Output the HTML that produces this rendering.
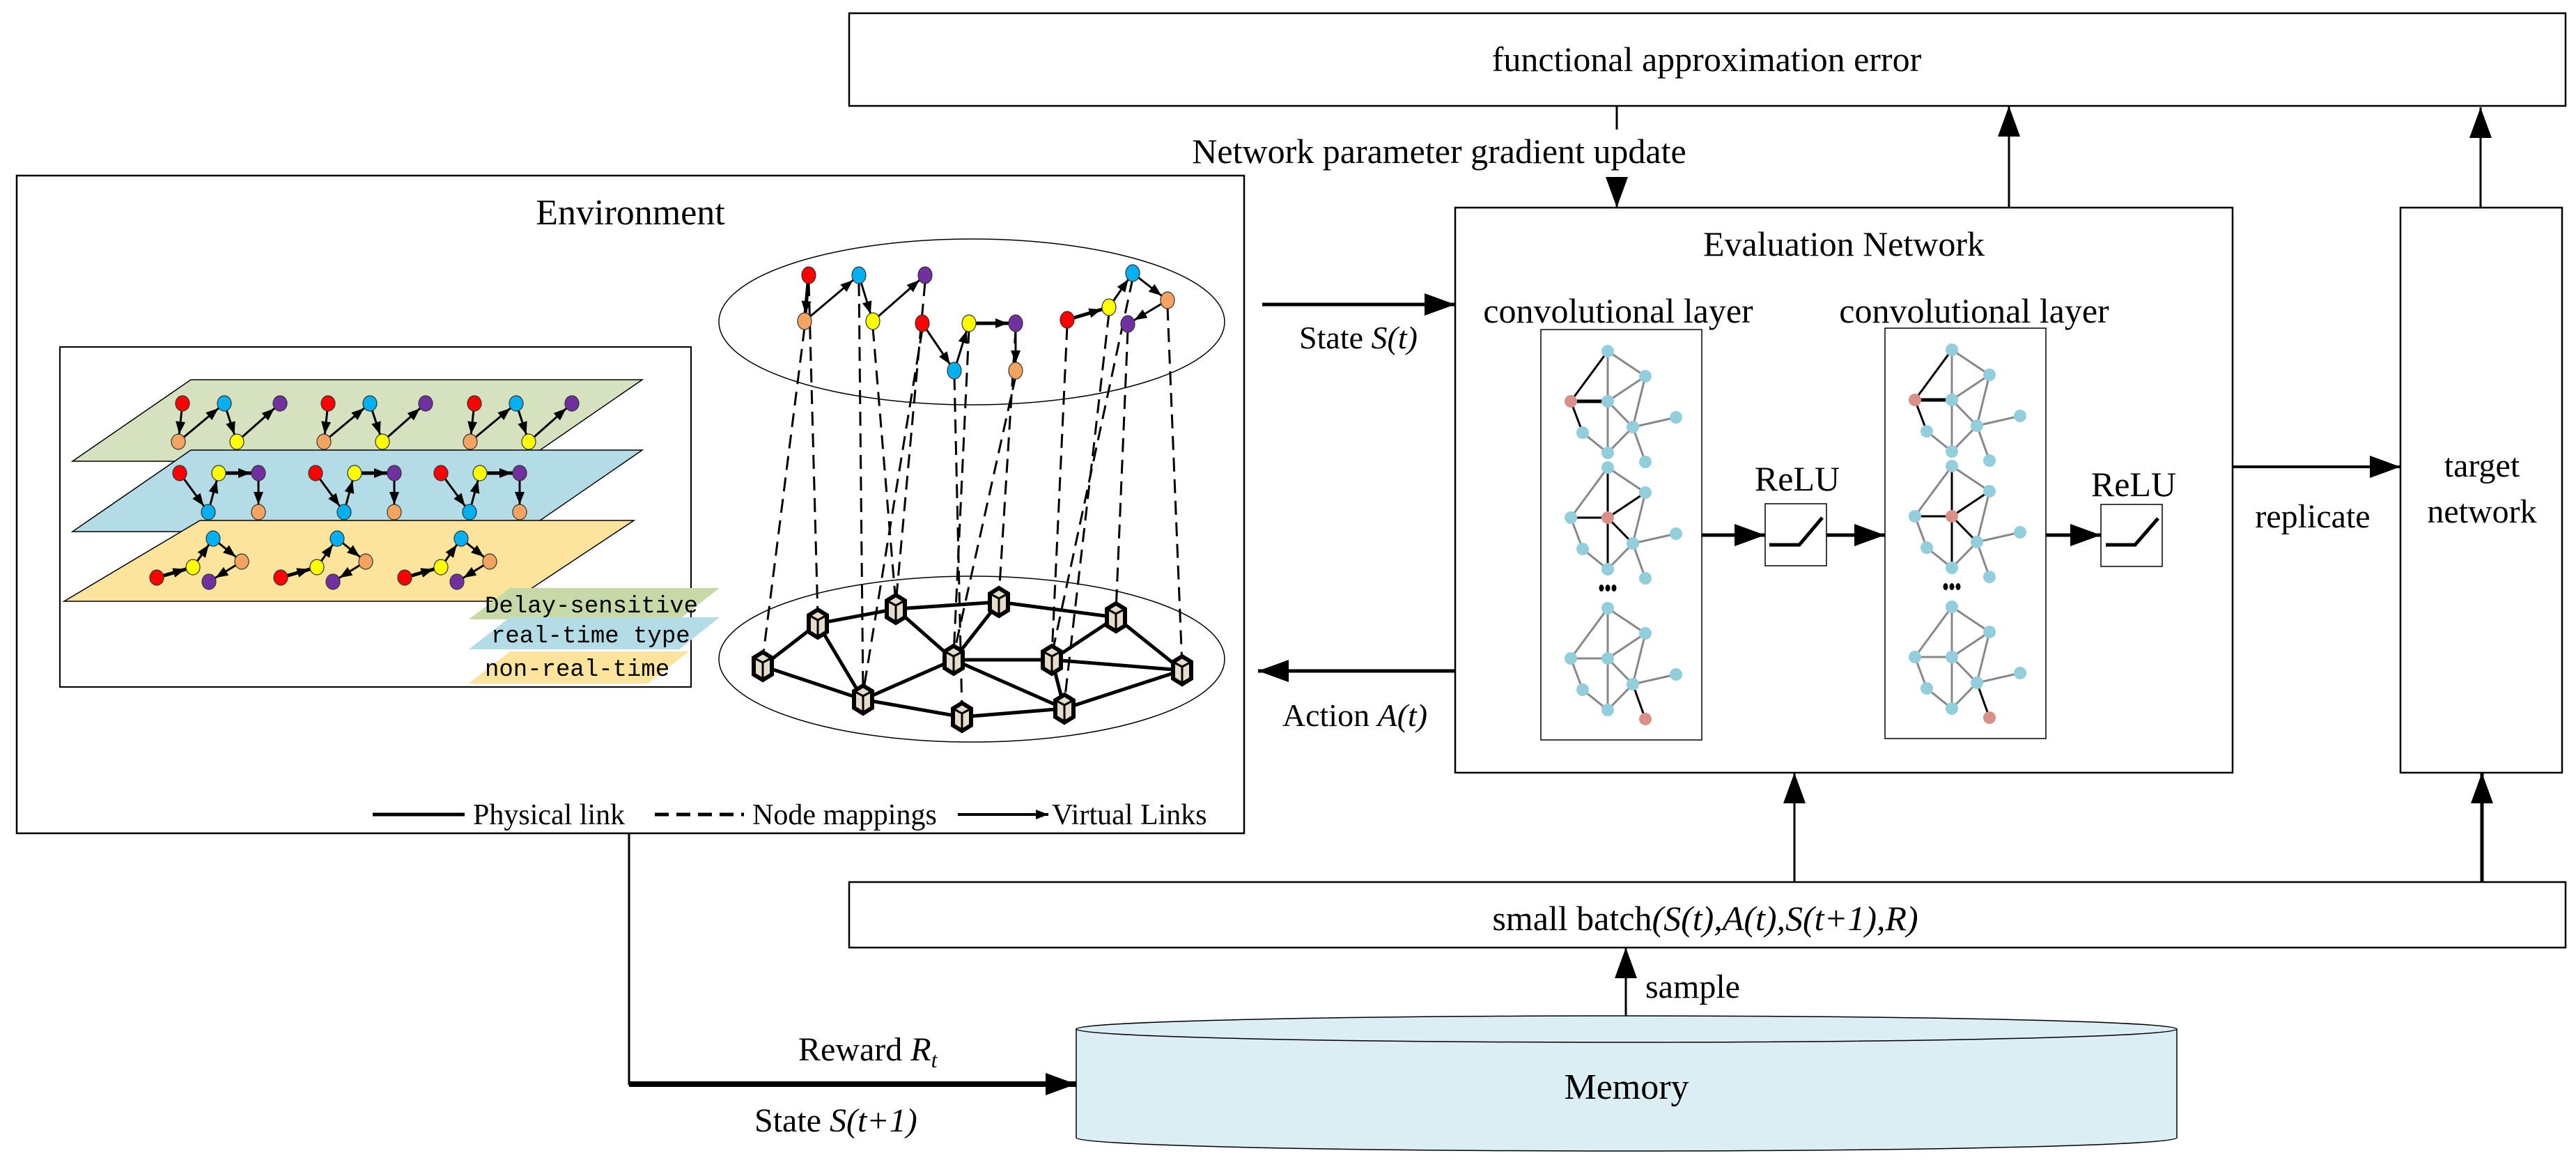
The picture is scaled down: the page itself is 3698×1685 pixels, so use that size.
<!DOCTYPE html>
<html><head><meta charset="utf-8"><style>
html,body{margin:0;padding:0;background:#fff;}
svg{display:block;}
text{font-family:"Liberation Serif",serif;fill:#000;}
.mono{font-family:"Liberation Mono",monospace;}
</style></head><body>
<svg width="3698" height="1685" viewBox="0 0 3698 1685" xmlns="http://www.w3.org/2000/svg">
<defs>
<marker id="ah" markerUnits="userSpaceOnUse" viewBox="0 0 44 32" markerWidth="44" markerHeight="32" refX="44" refY="16" orient="auto"><path d="M0,0 L44,16 L0,32 z" fill="#000"/></marker>
<marker id="sa" markerUnits="userSpaceOnUse" viewBox="0 0 30 14" markerWidth="30" markerHeight="14" refX="29" refY="7" orient="auto"><path d="M0,0 L18,7 L0,14 z" fill="#000"/></marker>
<marker id="sa0" markerUnits="userSpaceOnUse" viewBox="0 0 20 14" markerWidth="20" markerHeight="14" refX="18" refY="7" orient="auto"><path d="M0,0 L18,7 L0,14 z" fill="#000"/></marker>
<g id="hx">
<polygon points="0,-20 13,-12 13,12 0,20 -13,12 -13,-12" fill="#e6dccb" stroke="#000" stroke-width="6"/>
<polyline points="-13,-12 0,-5 13,-12" fill="none" stroke="#000" stroke-width="3"/>
<line x1="0" y1="-5" x2="0" y2="18" stroke="#000" stroke-width="3"/>
</g>
<!-- GCN graph -->
<g id="gA" stroke-width="3">
<line x1="0" y1="0" x2="-53" y2="72" stroke="#000"/>
<line x1="0" y1="0" x2="54" y2="36" stroke="#888"/>
<line x1="0" y1="0" x2="0" y2="146" stroke="#888"/>
<line x1="-53" y1="72" x2="0" y2="72" stroke="#000" stroke-width="5"/>
<line x1="-53" y1="72" x2="-36" y2="117" stroke="#000"/>
<line x1="-36" y1="117" x2="0" y2="146" stroke="#888"/>
<line x1="0" y1="72" x2="36" y2="109" stroke="#888"/>
<line x1="54" y1="36" x2="0" y2="72" stroke="#888"/>
<line x1="54" y1="36" x2="36" y2="109" stroke="#888"/>
<line x1="36" y1="109" x2="98" y2="95" stroke="#888"/>
<line x1="36" y1="109" x2="54" y2="159" stroke="#888"/>
<line x1="36" y1="109" x2="0" y2="146" stroke="#888"/>
<g fill="#92cedb"><ellipse cx="0" cy="0" rx="9" ry="9"/><ellipse cx="54" cy="36" rx="9" ry="9"/><ellipse cx="0" cy="72" rx="9" ry="9"/><ellipse cx="36" cy="109" rx="9" ry="9"/><ellipse cx="98" cy="95" rx="9" ry="9"/><ellipse cx="-36" cy="117" rx="9" ry="9"/><ellipse cx="0" cy="146" rx="9" ry="9"/><ellipse cx="54" cy="159" rx="9" ry="9"/></g>
<ellipse cx="-53" cy="72" rx="9" ry="9" fill="#d9908a"/>
</g>
<g id="gB" stroke-width="3">
<line x1="0" y1="0" x2="-53" y2="72" stroke="#888"/>
<line x1="0" y1="0" x2="54" y2="36" stroke="#888"/>
<line x1="0" y1="0" x2="0" y2="146" stroke="#000"/>
<line x1="-53" y1="72" x2="0" y2="72" stroke="#000"/>
<line x1="-53" y1="72" x2="-36" y2="117" stroke="#888"/>
<line x1="-36" y1="117" x2="0" y2="146" stroke="#888"/>
<line x1="0" y1="72" x2="36" y2="109" stroke="#000"/>
<line x1="54" y1="36" x2="0" y2="72" stroke="#000"/>
<line x1="54" y1="36" x2="36" y2="109" stroke="#888"/>
<line x1="36" y1="109" x2="98" y2="95" stroke="#888"/>
<line x1="36" y1="109" x2="54" y2="159" stroke="#888"/>
<line x1="36" y1="109" x2="0" y2="146" stroke="#888"/>
<g fill="#92cedb"><ellipse cx="0" cy="0" rx="9" ry="9"/><ellipse cx="54" cy="36" rx="9" ry="9"/><ellipse cx="-53" cy="72" rx="9" ry="9"/><ellipse cx="36" cy="109" rx="9" ry="9"/><ellipse cx="98" cy="95" rx="9" ry="9"/><ellipse cx="-36" cy="117" rx="9" ry="9"/><ellipse cx="0" cy="146" rx="9" ry="9"/><ellipse cx="54" cy="159" rx="9" ry="9"/></g>
<ellipse cx="0" cy="72" rx="9" ry="9" fill="#d9908a"/>
</g>
<g id="gC" stroke-width="3">
<line x1="0" y1="0" x2="-53" y2="72" stroke="#888"/>
<line x1="0" y1="0" x2="54" y2="36" stroke="#888"/>
<line x1="0" y1="0" x2="0" y2="146" stroke="#888"/>
<line x1="-53" y1="72" x2="0" y2="72" stroke="#888"/>
<line x1="-53" y1="72" x2="-36" y2="117" stroke="#888"/>
<line x1="-36" y1="117" x2="0" y2="146" stroke="#888"/>
<line x1="0" y1="72" x2="36" y2="109" stroke="#888"/>
<line x1="54" y1="36" x2="0" y2="72" stroke="#888"/>
<line x1="54" y1="36" x2="36" y2="109" stroke="#888"/>
<line x1="36" y1="109" x2="98" y2="95" stroke="#888"/>
<line x1="36" y1="109" x2="54" y2="159" stroke="#000"/>
<line x1="36" y1="109" x2="0" y2="146" stroke="#888"/>
<g fill="#92cedb"><ellipse cx="0" cy="0" rx="9" ry="9"/><ellipse cx="54" cy="36" rx="9" ry="9"/><ellipse cx="-53" cy="72" rx="9" ry="9"/><ellipse cx="0" cy="72" rx="9" ry="9"/><ellipse cx="36" cy="109" rx="9" ry="9"/><ellipse cx="98" cy="95" rx="9" ry="9"/><ellipse cx="-36" cy="117" rx="9" ry="9"/><ellipse cx="0" cy="146" rx="9" ry="9"/></g>
<ellipse cx="54" cy="159" rx="9" ry="9" fill="#d9908a"/>
</g>
<g id="conv">
<use href="#gA" x="0" y="0"/>
<use href="#gB" x="0" y="167"/>
<use href="#gC" x="0" y="369"/>
<g fill="#000"><ellipse cx="-9" cy="340" rx="3.5" ry="5"/><ellipse cx="0" cy="340" rx="3.5" ry="5"/><ellipse cx="9" cy="340" rx="3.5" ry="5"/></g>
</g>
<!-- plane node groups -->
<g id="pg1" stroke="#000" stroke-width="3">
<line x1="262" y1="579" x2="256" y2="634" marker-end="url(#sa)"/>
<line x1="256" y1="634" x2="322" y2="579" marker-end="url(#sa)"/>
<line x1="322" y1="579" x2="340" y2="634" marker-end="url(#sa)"/>
<line x1="340" y1="634" x2="402" y2="579" marker-end="url(#sa)"/>
<g stroke-width="1.2" stroke="#333">
<ellipse cx="262" cy="579" rx="10" ry="11" fill="#ff0000"/><ellipse cx="322" cy="579" rx="10" ry="11" fill="#00b0f0"/><ellipse cx="402" cy="579" rx="10" ry="11" fill="#7030a0"/><ellipse cx="256" cy="634" rx="10" ry="11" fill="#f4a460"/><ellipse cx="340" cy="634" rx="10" ry="11" fill="#ffff00"/>
</g></g>
<g id="pg2" stroke="#000" stroke-width="3">
<line x1="258" y1="679" x2="299" y2="735" marker-end="url(#sa)"/>
<line x1="299" y1="735" x2="314" y2="679" marker-end="url(#sa)"/>
<line x1="314" y1="679" x2="371" y2="679" stroke-width="5" marker-end="url(#sa)"/>
<line x1="371" y1="679" x2="371" y2="735" marker-end="url(#sa)"/>
<g stroke-width="1.2" stroke="#333">
<ellipse cx="258" cy="679" rx="10" ry="11" fill="#ff0000"/><ellipse cx="314" cy="679" rx="10" ry="11" fill="#ffff00"/><ellipse cx="371" cy="679" rx="10" ry="11" fill="#7030a0"/><ellipse cx="299" cy="735" rx="10" ry="11" fill="#00b0f0"/><ellipse cx="371" cy="735" rx="10" ry="11" fill="#f4a460"/>
</g></g>
<g id="pg3" stroke="#000" stroke-width="3">
<line x1="225" y1="829" x2="277" y2="814" stroke-width="5" marker-end="url(#sa)"/>
<line x1="277" y1="814" x2="306" y2="773" marker-end="url(#sa)"/>
<line x1="306" y1="773" x2="347" y2="806" marker-end="url(#sa)"/>
<line x1="347" y1="806" x2="300" y2="835" marker-end="url(#sa)"/>
<g stroke-width="1.2" stroke="#333">
<ellipse cx="306" cy="773" rx="10" ry="11" fill="#00b0f0"/><ellipse cx="347" cy="806" rx="10" ry="11" fill="#f4a460"/><ellipse cx="277" cy="814" rx="10" ry="11" fill="#ffff00"/><ellipse cx="225" cy="829" rx="10" ry="11" fill="#ff0000"/><ellipse cx="300" cy="835" rx="10" ry="11" fill="#7030a0"/>
</g></g>
</defs>

<!-- top box -->
<rect x="1219" y="19" width="2464" height="133" fill="none" stroke="#000" stroke-width="2.5"/>
<text x="2450" y="102" font-size="50" text-anchor="middle">functional approximation error</text>

<!-- dashed gradient update arrow -->
<line x1="2321" y1="152" x2="2321" y2="186" stroke="#000" stroke-width="3"/>
<line x1="2321" y1="255" x2="2321" y2="298" stroke="#000" stroke-width="3" marker-end="url(#ah)"/>
<text x="2066" y="234" font-size="50" text-anchor="middle">Network parameter gradient update</text>
<!-- arrows up to top box -->
<line x1="2884" y1="298" x2="2884" y2="152" stroke="#000" stroke-width="3" marker-end="url(#ah)"/>
<line x1="3561" y1="298" x2="3561" y2="154" stroke="#000" stroke-width="3" marker-end="url(#ah)"/>

<!-- Environment box -->
<rect x="24" y="252" width="1762" height="944" fill="none" stroke="#000" stroke-width="2.5"/>
<text x="905" y="322" font-size="52" text-anchor="middle">Environment</text>
<rect x="86" y="498" width="906" height="488" fill="none" stroke="#000" stroke-width="2"/>
<polygon points="274,545 922,545 752,662 104,662" fill="#d6e2bf" stroke="#000" stroke-width="1.5"/>
<use href="#pg1"/><use href="#pg1" x="209"/><use href="#pg1" x="419"/>
<polygon points="274,646 922,646 752,763 104,763" fill="#b4dce6" stroke="#000" stroke-width="1.5"/>
<use href="#pg2"/><use href="#pg2" x="195"/><use href="#pg2" x="375"/>
<polygon points="287,747 910,747 735,863 92,863" fill="#fde49c" stroke="#000" stroke-width="1.5"/>
<use href="#pg3"/><use href="#pg3" x="178"/><use href="#pg3" x="356"/>
<polygon points="732,844 1033,844 975,889 673,889" fill="#c6d9a6"/>
<polygon points="732,886 1033,886 975,932 673,932" fill="#b4dce6"/>
<polygon points="732,935 989,935 930,981 673,981" fill="#fde49c"/>
<text class="mono" x="696" y="879" font-size="34">Delay-sensitive</text>
<text class="mono" x="705" y="922" font-size="34">real-time type</text>
<text class="mono" x="696" y="970" font-size="34">non-real-time</text>

<!-- ellipses -->
<ellipse cx="1395" cy="462" rx="363" ry="119" fill="none" stroke="#000" stroke-width="1.5"/>
<ellipse cx="1395" cy="946" rx="363" ry="119" fill="none" stroke="#000" stroke-width="1.5"/>

<!-- mapping dashed lines -->
<g stroke="#000" stroke-width="3" stroke-dasharray="20 11" fill="none">
<line x1="1155" y1="470" x2="1095" y2="945"/>
<line x1="1161" y1="405" x2="1174" y2="885"/>
<line x1="1233" y1="405" x2="1239" y2="995"/>
<line x1="1253" y1="470" x2="1286" y2="866"/>
<line x1="1328" y1="405" x2="1286" y2="866"/>
<line x1="1324" y1="473" x2="1239" y2="995"/>
<line x1="1391" y1="473" x2="1369" y2="940"/>
<line x1="1370" y1="540" x2="1381" y2="1020"/>
<line x1="1458" y1="473" x2="1434" y2="856"/>
<line x1="1458" y1="540" x2="1369" y2="940"/>
<line x1="1532" y1="468" x2="1510" y2="940"/>
<line x1="1592" y1="450" x2="1528" y2="1008"/>
<line x1="1619" y1="474" x2="1602" y2="878"/>
<line x1="1676" y1="440" x2="1697" y2="955"/>
<line x1="1626" y1="400" x2="1510" y2="940"/>
</g>

<!-- virtual network -->
<g stroke="#000" stroke-width="3">
<line x1="1161" y1="395" x2="1155" y2="461" stroke-width="5" marker-end="url(#sa)"/>
<line x1="1155" y1="461" x2="1233" y2="395" marker-end="url(#sa)"/>
<line x1="1233" y1="395" x2="1253" y2="461" marker-end="url(#sa)"/>
<line x1="1253" y1="461" x2="1328" y2="395" marker-end="url(#sa)"/>
<line x1="1324" y1="464" x2="1370" y2="532" marker-end="url(#sa)"/>
<line x1="1370" y1="532" x2="1391" y2="464" marker-end="url(#sa)"/>
<line x1="1391" y1="464" x2="1458" y2="464" stroke-width="5" marker-end="url(#sa)"/>
<line x1="1458" y1="464" x2="1458" y2="532" marker-end="url(#sa)"/>
<line x1="1532" y1="459" x2="1592" y2="441" stroke-width="5" marker-end="url(#sa)"/>
<line x1="1592" y1="441" x2="1626" y2="392" marker-end="url(#sa)"/>
<line x1="1626" y1="392" x2="1676" y2="431" marker-end="url(#sa)"/>
<line x1="1676" y1="431" x2="1619" y2="465" marker-end="url(#sa)"/>
</g>
<g stroke="#333" stroke-width="1.2">
<ellipse cx="1161" cy="395" rx="10" ry="12" fill="#ff0000"/>
<ellipse cx="1233" cy="395" rx="10" ry="12" fill="#00b0f0"/>
<ellipse cx="1328" cy="395" rx="10" ry="12" fill="#7030a0"/>
<ellipse cx="1155" cy="461" rx="10" ry="12" fill="#f4a460"/>
<ellipse cx="1253" cy="461" rx="10" ry="12" fill="#ffff00"/>
<ellipse cx="1324" cy="464" rx="10" ry="12" fill="#ff0000"/>
<ellipse cx="1391" cy="464" rx="10" ry="12" fill="#ffff00"/>
<ellipse cx="1458" cy="464" rx="10" ry="12" fill="#7030a0"/>
<ellipse cx="1370" cy="532" rx="10" ry="12" fill="#00b0f0"/>
<ellipse cx="1458" cy="532" rx="10" ry="12" fill="#f4a460"/>
<ellipse cx="1532" cy="459" rx="10" ry="12" fill="#ff0000"/>
<ellipse cx="1592" cy="441" rx="10" ry="12" fill="#ffff00"/>
<ellipse cx="1626" cy="392" rx="10" ry="12" fill="#00b0f0"/>
<ellipse cx="1676" cy="431" rx="10" ry="12" fill="#f4a460"/>
<ellipse cx="1619" cy="465" rx="10" ry="12" fill="#7030a0"/>
</g>

<!-- physical network -->
<g stroke="#000" stroke-width="5">
<line x1="1095" y1="956" x2="1174" y2="895"/>
<line x1="1174" y1="895" x2="1286" y2="874"/>
<line x1="1286" y1="874" x2="1434" y2="864"/>
<line x1="1434" y1="864" x2="1602" y2="886"/>
<line x1="1602" y1="886" x2="1697" y2="962"/>
<line x1="1095" y1="956" x2="1239" y2="1004"/>
<line x1="1174" y1="895" x2="1239" y2="1004"/>
<line x1="1286" y1="874" x2="1369" y2="947"/>
<line x1="1434" y1="864" x2="1369" y2="947"/>
<line x1="1369" y1="947" x2="1510" y2="947"/>
<line x1="1510" y1="947" x2="1697" y2="962"/>
<line x1="1510" y1="947" x2="1602" y2="886"/>
<line x1="1369" y1="947" x2="1239" y2="1004"/>
<line x1="1369" y1="947" x2="1528" y2="1017"/>
<line x1="1239" y1="1004" x2="1381" y2="1029"/>
<line x1="1381" y1="1029" x2="1528" y2="1017"/>
<line x1="1528" y1="1017" x2="1697" y2="962"/>
<line x1="1510" y1="947" x2="1528" y2="1017"/>
</g>
<use href="#hx" x="1095" y="956"/><use href="#hx" x="1174" y="895"/><use href="#hx" x="1286" y="874"/>
<use href="#hx" x="1434" y="864"/><use href="#hx" x="1602" y="886"/><use href="#hx" x="1697" y="962"/>
<use href="#hx" x="1510" y="947"/><use href="#hx" x="1369" y="947"/><use href="#hx" x="1239" y="1004"/>
<use href="#hx" x="1381" y="1029"/><use href="#hx" x="1528" y="1017"/>

<!-- legend -->
<line x1="535" y1="1169" x2="667" y2="1169" stroke="#000" stroke-width="5"/>
<text x="679" y="1183" font-size="42">Physical link</text>
<line x1="940" y1="1169" x2="1068" y2="1169" stroke="#000" stroke-width="5" stroke-dasharray="20 11"/>
<text x="1080" y="1183" font-size="42">Node mappings</text>
<line x1="1375" y1="1169" x2="1505" y2="1169" stroke="#000" stroke-width="4" marker-end="url(#sa0)"/>
<text x="1510" y="1183" font-size="42">Virtual Links</text>

<!-- State / Action -->
<line x1="1812" y1="437" x2="2089" y2="437" stroke="#000" stroke-width="5" marker-end="url(#ah)"/>
<text x="1950" y="500" font-size="46" text-anchor="middle">State <tspan font-style="italic">S(t)</tspan></text>
<line x1="2089" y1="963" x2="1806" y2="963" stroke="#000" stroke-width="5" marker-end="url(#ah)"/>
<text x="1945" y="1042" font-size="46" text-anchor="middle">Action <tspan font-style="italic">A(t)</tspan></text>

<!-- Evaluation network -->
<rect x="2089" y="298" width="1116" height="811" fill="none" stroke="#000" stroke-width="2.5"/>
<text x="2647" y="367" font-size="50" text-anchor="middle">Evaluation Network</text>
<text x="2323" y="463" font-size="50" text-anchor="middle">convolutional layer</text>
<text x="2834" y="463" font-size="50" text-anchor="middle">convolutional layer</text>
<rect x="2212" y="473" width="231" height="589" fill="none" stroke="#000" stroke-width="1.5"/>
<rect x="2706" y="471" width="231" height="589" fill="none" stroke="#000" stroke-width="1.5"/>
<use href="#conv" x="2308" y="504"/>
<use href="#conv" x="2802" y="502"/>
<line x1="2443" y1="768" x2="2534" y2="768" stroke="#000" stroke-width="5" marker-end="url(#ah)"/>
<line x1="2622" y1="768" x2="2706" y2="768" stroke="#000" stroke-width="5" marker-end="url(#ah)"/>
<line x1="2937" y1="768" x2="3016" y2="768" stroke="#000" stroke-width="5" marker-end="url(#ah)"/>
<rect x="2534" y="723" width="88" height="89" fill="#fff" stroke="#000" stroke-width="1.5"/>
<rect x="3016" y="724" width="88" height="89" fill="#fff" stroke="#000" stroke-width="1.5"/>
<polyline points="2540,782 2583,782 2616,743" fill="none" stroke="#000" stroke-width="5"/>
<polyline points="3023,782 3065,782 3098,744" fill="none" stroke="#000" stroke-width="5"/>
<text x="2580" y="704" font-size="50" text-anchor="middle">ReLU</text>
<text x="3063" y="712" font-size="50" text-anchor="middle">ReLU</text>

<!-- replicate & target -->
<line x1="3205" y1="670" x2="3446" y2="670" stroke="#000" stroke-width="4" marker-end="url(#ah)"/>
<text x="3320" y="757" font-size="48" text-anchor="middle">replicate</text>
<rect x="3446" y="298" width="232" height="811" fill="none" stroke="#000" stroke-width="2.5"/>
<text x="3563" y="684" font-size="48" text-anchor="middle">target</text>
<text x="3563" y="750" font-size="48" text-anchor="middle">network</text>

<!-- small batch -->
<rect x="1219" y="1266" width="2464" height="94" fill="none" stroke="#000" stroke-width="2.5"/>
<text x="2448" y="1335" font-size="50" text-anchor="middle">small batch<tspan font-style="italic">(S(t),A(t),S(t+1),R)</tspan></text>
<line x1="2576" y1="1266" x2="2576" y2="1109" stroke="#000" stroke-width="3" marker-end="url(#ah)"/>
<line x1="3563" y1="1266" x2="3563" y2="1109" stroke="#000" stroke-width="5" marker-end="url(#ah)"/>

<!-- memory -->
<path d="M1545,1477 L1545,1633 A790,19 0 0 0 3125,1633 L3125,1477 Z" fill="#daeef4" stroke="#000" stroke-width="1.5"/>
<ellipse cx="2335" cy="1477" rx="790" ry="19" fill="#daeef4" stroke="#000" stroke-width="1.5"/>
<text x="2335" y="1577" font-size="52" text-anchor="middle">Memory</text>
<line x1="2334" y1="1458" x2="2334" y2="1360" stroke="#000" stroke-width="3" marker-end="url(#ah)"/>
<text x="2362" y="1432" font-size="48">sample</text>

<!-- env to memory -->
<polyline points="903,1196 903,1556 1500,1556" fill="none" stroke="#000" stroke-width="3"/>
<line x1="903" y1="1556" x2="1545" y2="1556" stroke="#000" stroke-width="8" marker-end="url(#ah)"/>
<text x="1146" y="1522" font-size="48">Reward <tspan font-style="italic">R</tspan><tspan font-style="italic" font-size="32" dy="10">t</tspan></text>
<text x="1083" y="1624" font-size="48">State <tspan font-style="italic">S(t+1)</tspan></text>
</svg>
</body></html>
